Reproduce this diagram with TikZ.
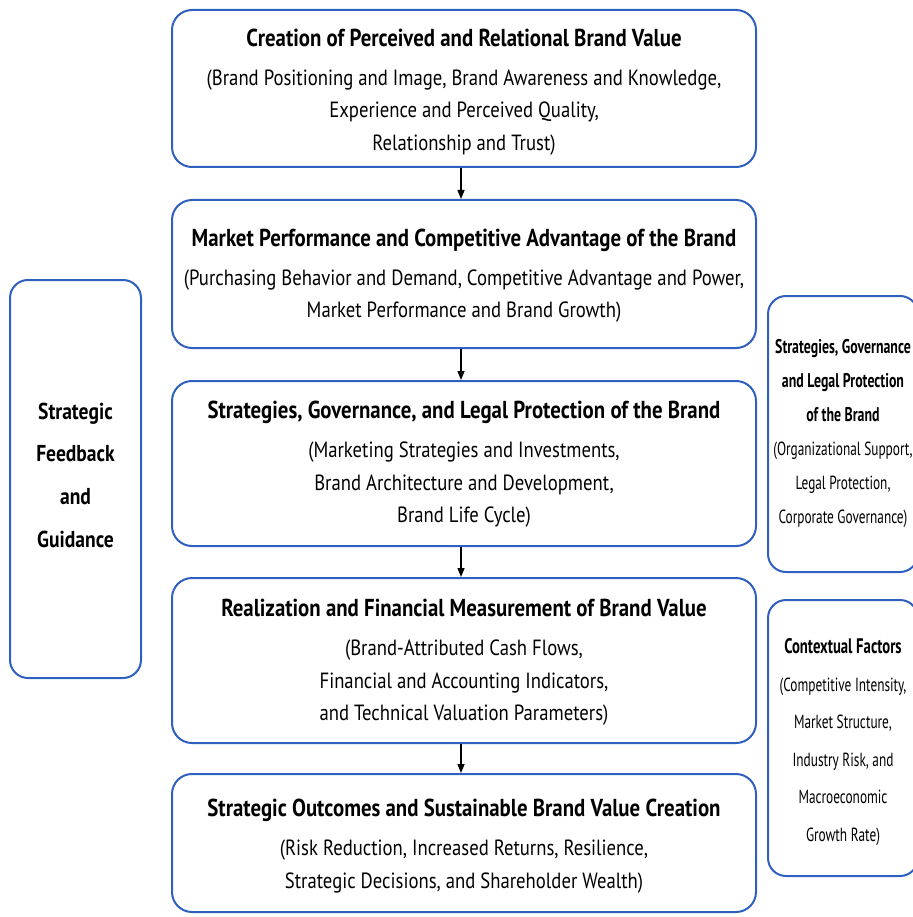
\documentclass[tikz,border=0pt]{standalone}
\usepackage{fontspec}
\setmainfont[FakeStretch=0.85]{PT Sans}
\newfontfamily\narrowf[FakeStretch=0.7]{PT Sans}
\usetikzlibrary{arrows.meta}
\definecolor{bbl}{RGB}{47,95,191}
\tikzset{
  mainbox/.style={draw=bbl, line width=2pt, rounded corners=20pt, minimum width=584pt, inner sep=0pt},
  sidebox/.style={draw=bbl, line width=2pt, rounded corners=18pt, inner sep=0pt},
  maintxt/.style={align=center, inner sep=0pt, font=\fontsize{22}{32.5}\selectfont},
  flow/.style={-{Triangle[length=9pt,width=7pt]}, line width=1.4pt, black},
}
\newcommand\ttl[1]{{\fontsize{24.5}{32}\selectfont\bfseries #1}\\[6.5pt]}
\begin{document}
\begin{tikzpicture}[x=1pt,y=-1pt]
\useasboundingbox (0,0) rectangle (912,917);
% main boxes
\node[mainbox, minimum height=157pt] (b1) at (464,88.5) {};
\node[mainbox, minimum height=148pt] (b2) at (464,274) {};
\node[mainbox, minimum height=165pt] (b3) at (464,463.5) {};
\node[mainbox, minimum height=165pt] (b4) at (464,660.5) {};
\node[mainbox, minimum height=138pt] (b5) at (464,843) {};
\node[maintxt] (t1) at ([yshift=-3.5pt]b1.center) {\ttl{Creation of Perceived and Relational Brand Value}(Brand Positioning and Image, Brand Awareness and Knowledge,\\Experience and Perceived Quality,\\Relationship and Trust)};
\node[maintxt] (t2) at ([yshift=-1.5pt]b2.center) {\ttl{Market Performance and Competitive Advantage of the Brand}(Purchasing Behavior and Demand, Competitive Advantage and Power,\\Market Performance and Brand Growth)};
\node[maintxt] (t3) at ([yshift=-1pt]b3.center) {\ttl{Strategies, Governance, and Legal Protection of the Brand}(Marketing Strategies and Investments,\\Brand Architecture and Development,\\Brand Life Cycle)};
\node[maintxt] (t4) at ([yshift=-2pt]b4.center) {\ttl{Realization and Financial Measurement of Brand Value}(Brand-Attributed Cash Flows,\\Financial and Accounting Indicators,\\and Technical Valuation Parameters)};
\node[maintxt] (t5) at ([yshift=-3pt]b5.center) {\ttl{Strategic Outcomes and Sustainable Brand Value Creation}(Risk Reduction, Increased Returns, Resilience,\\Strategic Decisions, and Shareholder Wealth)};
% side boxes
\node[sidebox, minimum width=131pt, minimum height=398pt] (fb) at (75.5,479) {};
\node[align=center, inner sep=0pt, font=\fontsize{23}{42.7}\selectfont\bfseries] (tfb) at ([yshift=4pt]fb.center) {Strategic\\Feedback\\and\\Guidance};
\node[sidebox, minimum width=150pt, minimum height=276pt] (r1) at (843,434) {};
\node[align=center, inner sep=0pt, font=\narrowf\fontsize{19}{34}\selectfont] (tr1) at (r1.center) {{\fontsize{19.8}{34}\selectfont\bfseries Strategies, Governance}\\{\fontsize{19.8}{34}\selectfont\bfseries and Legal Protection}\\{\fontsize{19.8}{34}\selectfont\bfseries of the Brand}\\(Organizational Support,\\Legal Protection,\\Corporate Governance)};
\node[sidebox, minimum width=150pt, minimum height=276pt] (r2) at (843,738) {};
\node[align=center, inner sep=0pt, font=\narrowf\fontsize{19}{37.5}\selectfont] (tr2) at ([yshift=-4pt]r2.center) {{\fontsize{21}{37.5}\selectfont\bfseries Contextual Factors}\\(Competitive Intensity,\\Market Structure,\\Industry Risk, and\\Macroeconomic\\Growth Rate)};
% connectors
\draw[flow] ([xshift=-3pt]b1.south) -- ([xshift=-3pt]b2.north);
\draw[flow] ([xshift=-3pt]b2.south) -- ([xshift=-3pt]b3.north);
\draw[flow] ([xshift=-3pt]b3.south) -- ([xshift=-3pt]b4.north);
\draw[flow] ([xshift=-3pt]b4.south) -- ([xshift=-3pt]b5.north);
\end{tikzpicture}
\end{document}
